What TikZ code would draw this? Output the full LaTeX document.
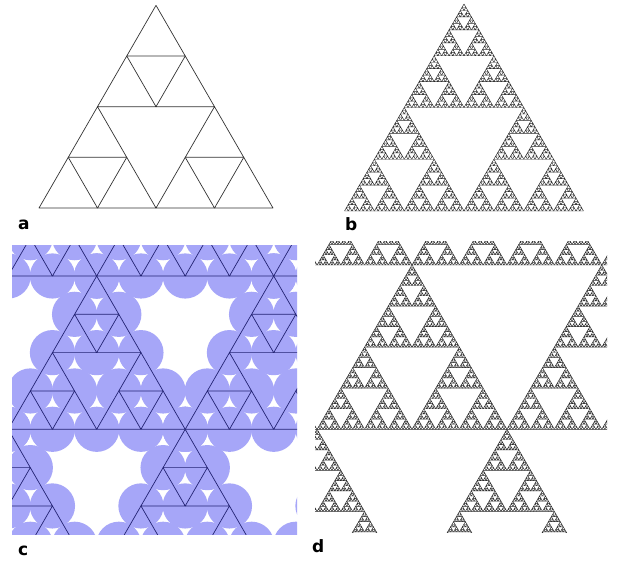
\documentclass[tikz,border=0pt]{standalone}
\usepackage{fontspec}
\setmainfont{DejaVu Sans}
\definecolor{circblue}{RGB}{166,166,248}
\definecolor{cline}{RGB}{35,35,115}
\tikzset{
  leafa/.style={draw=black!80,line width=0.7pt,line join=round},
  leafb/.style={draw=black!85,line width=0.45pt,line join=round},
  leafc/.style={draw=cline,line width=0.7pt,line join=round},
  circ/.style={fill=circblue},
  lab/.style={anchor=base west,inner sep=0pt,font=\fontsize{17}{17}\selectfont\bfseries}
}
\def\sierp#1#2#3#4{%
  \ifnum#1=0\relax
    \path[leaf] (#2,#3) -- ++(#4,0) -- ++(-#4/2,-0.8660254*#4) -- cycle;
  \else
    \begingroup
    \pgfmathsetmacro\sa{#4/2}%
    \pgfmathtruncatemacro\sd{#1-1}%
    \pgfmathsetmacro\sxa{#2+\sa}%
    \pgfmathsetmacro\sxb{#2+\sa/2}%
    \pgfmathsetmacro\syb{#3-\sa*0.8660254}%
    \edef\snext{\noexpand\sierp{\sd}{#2}{#3}{\sa}\noexpand\sierp{\sd}{\sxa}{#3}{\sa}\noexpand\sierp{\sd}{\sxb}{\syb}{\sa}}%
    \expandafter\endgroup\snext
  \fi}
\begin{document}
\begin{tikzpicture}[x=1pt,y=-1pt]
\useasboundingbox[fill=white] (0,0) rectangle (624,560);
% panel a
\begin{scope}
  \tikzset{leaf/.style=leafa}
  \sierp{2}{39}{208}{234}
\end{scope}
% panel b
\begin{scope}
  \tikzset{leaf/.style=leafb}
  \sierp{6}{344.5}{211}{239}
\end{scope}
% panel c
\begin{scope}
  \clip (12,245) rectangle (297,534);
  \tikzset{leaf/.style=leafc}
  \def\cs{44.25}
  \def\ch{38.3216}
  \foreach \ax/\ay in {8.2/122.7,185.2/122.7,362.2/122.7,-80.3/276,96.7/276,273.7/276,8.2/429.3,185.2/429.3,362.2/429.3}{
    \foreach \r in {0,...,4}{
      \foreach \p in {0,...,\r}{
        \fill[circ] ({\ax+(\p-\r/2)*\cs},{\ay+\r*\ch}) circle[radius=22.6pt];
      }
    }
  }
  \foreach \ax/\ay in {8.2/122.7,185.2/122.7,362.2/122.7,-80.3/276,96.7/276,273.7/276,8.2/429.3,185.2/429.3,362.2/429.3}{
    \pgfmathsetmacro\bx{\ax-88.5}
    \pgfmathsetmacro\by{\ay+153.286}
    \sierp{2}{\bx}{\by}{177}
  }
\end{scope}
% panel d
\begin{scope}
  \clip (315,241.7) rectangle (607,532.6);
  \tikzset{leaf/.style=leafb}
  \foreach \bx/\by in {222.2/265,412/265,601.8/265,127.1/429.3,317.1/429.3,506.9/429.3,222.2/593.6,412/593.6}{
    \sierp{6}{\bx}{\by}{189.8}
  }
\end{scope}
% labels
\node[lab] (la) at (18,229) {a};
\node[lab] (lb) at (345,230) {b};
\node[lab] (lc) at (18,555) {c};
\node[lab] (ld) at (312,552) {d};
\end{tikzpicture}
\end{document}
